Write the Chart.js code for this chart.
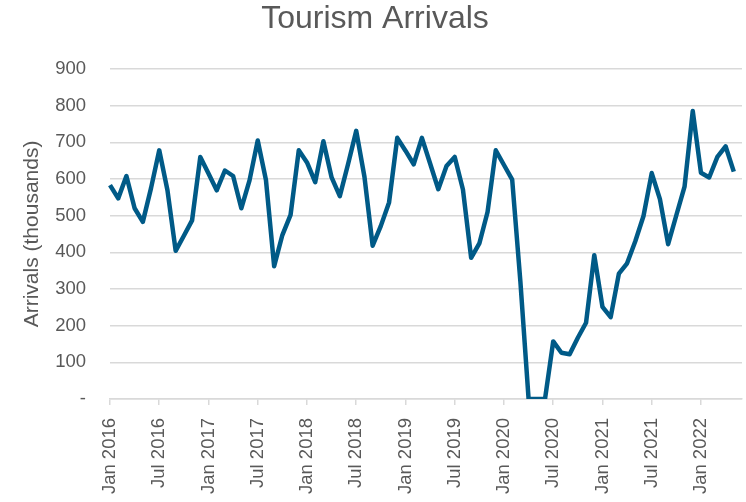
<!DOCTYPE html>
<html>
<head>
<meta charset="utf-8">
<script src="https://cdn.jsdelivr.net/npm/chart.js@4.4.1/dist/chart.umd.min.js"></script>
<style>
  html, body { margin: 0; padding: 0; background: #fff; }
  #wrap { width: 746px; height: 502px; }
</style>
</head>
<body>
<div id="wrap"><canvas id="myChart"></canvas></div>
<script>
// monthly arrivals, thousands
var arrivals2016 = [583, 547, 608, 520, 483, 575, 678, 569, 404, 445, 487, 660]
var arrivals2017 = [615, 569, 623, 608, 520, 596, 705, 597, 362, 447, 502, 678]
var arrivals2018 = [645, 591, 703, 604, 553, 640, 731, 606, 418, 472, 536, 712]
var arrivals2019 = [677, 640, 712, 642, 572, 635, 660, 571, 385, 424, 510, 678]
var arrivals2020 = [638, 598, 320, 0, 0, 0, 157, 126, 122, 167, 208, 392]
var arrivals2021 = [251, 223, 342, 370, 430, 499, 616, 545, 422, 501, 579, 785]
var arrivals2022 = [617, 604, 660, 689, 620]

var years = [2016, 2017, 2018, 2019, 2020, 2021, 2022]
var monthNames = ['Jan', 'Feb', 'Mar', 'Apr', 'May', 'Jun', 'Jul', 'Aug', 'Sep', 'Oct', 'Nov', 'Dec']
var yTicks = [0, 100, 200, 300, 400, 500, 600, 700, 800, 900]

// axis runs one month past the last value (Jun 2022)
var categories = []
for (var y = 0; y < years.length; y++) {
    for (var m = 0; m < monthNames.length; m++) {
        if (years[y] == 2022 && m > 5) break
        categories.push(monthNames[m] + ' ' + years[y])
    }
}

var arrivals = [].concat(arrivals2016, arrivals2017, arrivals2018, arrivals2019,
    arrivals2020, arrivals2021, arrivals2022)

var textColor = '#595959'
var gridColor = '#d9d9d9'
var font = 'Liberation Sans, Arial, sans-serif'

criarGrafico()
function criarGrafico() {
    const ctx = document.getElementById('myChart')

    new Chart(ctx, {
        type: 'line',
        data: {
            labels: categories,
            datasets: [
                {
                    label: 'Arrivals',
                    data: arrivals,
                    borderColor: '#005a87',
                    borderWidth: 4.5,
                    borderJoinStyle: 'round',
                    pointRadius: 0,
                    tension: 0,
                    fill: false,
                },
            ],
        },
        options: {
            responsive: true,
            maintainAspectRatio: false,
            animation: false,
            layout: {
                padding: { left: 8, right: 4, top: 0, bottom: 0 },
            },
            scales: {
                x: {
                    afterFit: function (s) { s.height = 103 },
                    grid: {
                        drawOnChartArea: false,
                        drawTicks: true,
                        tickLength: 6,
                        color: gridColor,
                        lineWidth: 1.5,
                    },
                    border: { display: true, color: gridColor, width: 1.5 },
                    ticks: {
                        autoSkip: false,
                        maxRotation: 90,
                        minRotation: 90,
                        padding: 13,
                        color: textColor,
                        font: { family: font, size: 18.5 },
                        callback: function (value, index) {
                            if (index % 6 != 0) return null
                            return categories[index]
                        },
                    },
                },
                y: {
                    min: 0,
                    max: 900,
                    afterFit: function (s) { s.width = 102 },
                    afterBuildTicks: function (axis) {
                        axis.ticks = yTicks.map(function (v) { return { value: v } })
                    },
                    grid: {
                        color: gridColor,
                        lineWidth: 1.5,
                        drawTicks: false,
                    },
                    border: { display: false },
                    ticks: {
                        padding: 24,
                        color: textColor,
                        font: { family: font, size: 18.5 },
                        callback: function (value) {
                            return value == 0 ? '-' : value
                        },
                    },
                    title: {
                        display: true,
                        text: 'Arrivals (thousands)',
                        color: textColor,
                        font: { family: font, size: 21, weight: 'normal' },
                        padding: { top: 12, bottom: 10 },
                    },
                },
            },
            plugins: {
                legend: { display: false },
                tooltip: { enabled: false },
                title: {
                    display: true,
                    text: 'Tourism Arrivals',
                    color: textColor,
                    font: { family: font, size: 32, weight: 'normal' },
                    padding: { top: 0, bottom: 30.5 },
                },
            },
        },
    })
}
</script>
</body>
</html>
